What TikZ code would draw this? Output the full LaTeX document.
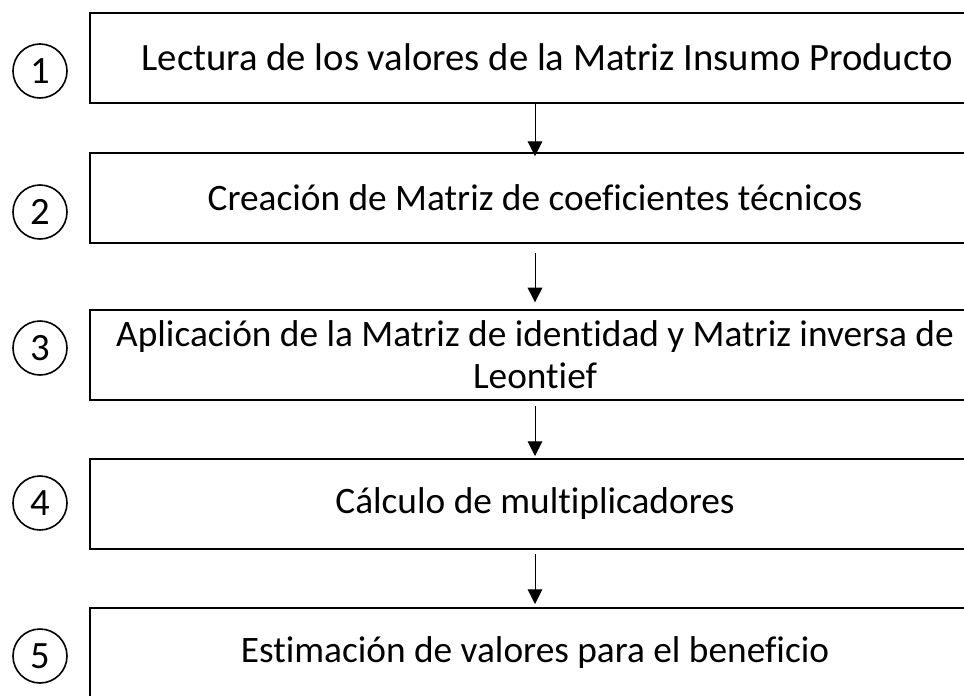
\documentclass[tikz,border=0pt]{standalone}
\usepackage{fontspec}
\setmainfont{Carlito}[Ligatures=NoCommon]
\usetikzlibrary{positioning}
\usetikzlibrary{arrows.meta}
\tikzset{x=0.75pt, y=-0.75pt,
    paso/.style={
        draw,
        line width=1.5pt,
        minimum width=667.5pt,
        minimum height=67.5pt,
        inner sep=2pt,
        align=center,
        font=\fontsize{28}{31.5}\selectfont},
    num/.style={
        draw, circle,
        line width=1.2pt,
        minimum size=40.5pt,
        inner sep=0pt,
        font=\fontsize{29}{31.5}\selectfont},
    flecha/.style={
        draw,
        -{Triangle[width=11pt,length=11pt]},
        line width=0.75pt}}

\begin{document}
\begin{tikzpicture}
    \useasboundingbox (0,0) rectangle (964,696);
    \node[paso, font=\fontsize{29}{31.5}\selectfont] (p1) at (535,57.5) {\hspace*{18pt}Lectura de los valores de la Matriz Insumo Producto};
    \node[paso] (p2) at (535,197.5) {Creación de Matriz de coeficientes técnicos};
    \node[paso] (p3) at (535,355) {Aplicación de la Matriz de identidad y Matriz inversa de\\Leontief};
    \node[paso] (p4) at (535,504) {Cálculo de multiplicadores};
    \node[paso] (p5) at (535,653) {Estimación de valores para el beneficio};
    \node[num] (n1) at (40,71) {1};
    \node[num] (n2) at (40,212) {2};
    \node[num] (n3) at (40,348) {3};
    \node[num] (n4) at (40,503) {4};
    \node[num] (n5) at (40,656) {5};
    \draw[flecha, shorten >=-3.4pt] (p1) -- (p2);
    \draw[flecha, shorten <=7pt, shorten >=5pt] (p2) -- (p3);
    \draw[flecha, shorten <=3.75pt, shorten >=1.5pt] (p3) -- (p4);
    \draw[flecha, shorten <=3pt, shorten >=2.25pt] (p4) -- (p5);
\end{tikzpicture}
\end{document}
